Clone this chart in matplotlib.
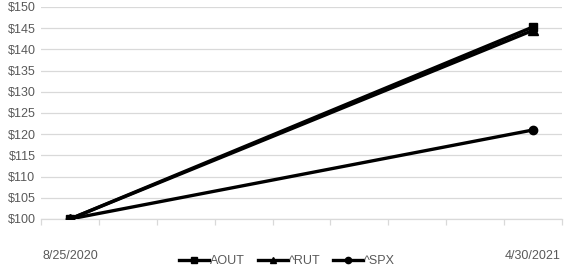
#!/usr/bin/env python3

import matplotlib
matplotlib.use('Agg')
import matplotlib.pyplot as plt
from matplotlib.ticker import FuncFormatter, MultipleLocator

plt.rcParams['font.family'] = ['Liberation Sans', 'DejaVu Sans']

# data (growth of $100)
dates = ["8/25/2020", "4/30/2021"]
month_pos = [0, 8]   # Aug 2020 .. Apr 2021 on a monthly axis
aout = [100, 145.3]
rut = [100, 144.5]
spx = [100, 121.0]

fig = plt.figure(figsize=(5.71, 2.70), dpi=100)
ax = fig.add_axes([41 / 571, 51 / 270, 521 / 571, 212 / 270])

grid_c = '#d9d9d9'
text_c = '#595959'

l_aout, = ax.plot(month_pos, aout, color='black', lw=2.4, marker='s', ms=6, label="AOUT", zorder=5)
l_rut, = ax.plot(month_pos, rut, color='black', lw=2.4, marker='^', ms=6.5, label="^RUT", zorder=4)
l_spx, = ax.plot(month_pos, spx, color='black', lw=2.4, marker='o', ms=6, label="^SPX", zorder=3)

ax.set_ylim(100, 150)
ax.set_xlim(-0.5, 8.5)
ax.yaxis.set_major_locator(MultipleLocator(5))
ax.yaxis.set_major_formatter(FuncFormatter(lambda v, p: "${:.0f}".format(v)))
ax.grid(axis='y', color=grid_c, lw=0.9)
ax.set_axisbelow(True)

ax.set_xticks(month_pos)
ax.set_xticklabels(dates)
ax.set_xticks([i - 0.5 for i in range(10)], minor=True)
ax.tick_params(axis='x', which='major', length=0, pad=22, labelsize=9, colors=text_c)
ax.tick_params(axis='x', which='minor', length=4, color=grid_c, width=0.9)
ax.tick_params(axis='y', length=0, pad=4, labelsize=9, colors=text_c)

for s in ['top', 'right', 'left']:
    ax.spines[s].set_visible(False)
ax.spines['bottom'].set_color(grid_c)
ax.spines['bottom'].set_linewidth(0.9)

fig.legend(handles=[l_aout, l_rut, l_spx], loc='center', bbox_to_anchor=(287 / 571, 1 - 261 / 270),
           ncol=3, frameon=False, fontsize=9, handlelength=2.4, handletextpad=0.1,
           columnspacing=1.0, labelcolor=text_c, markerscale=0.75)

plt.savefig("out.png", dpi=100)
